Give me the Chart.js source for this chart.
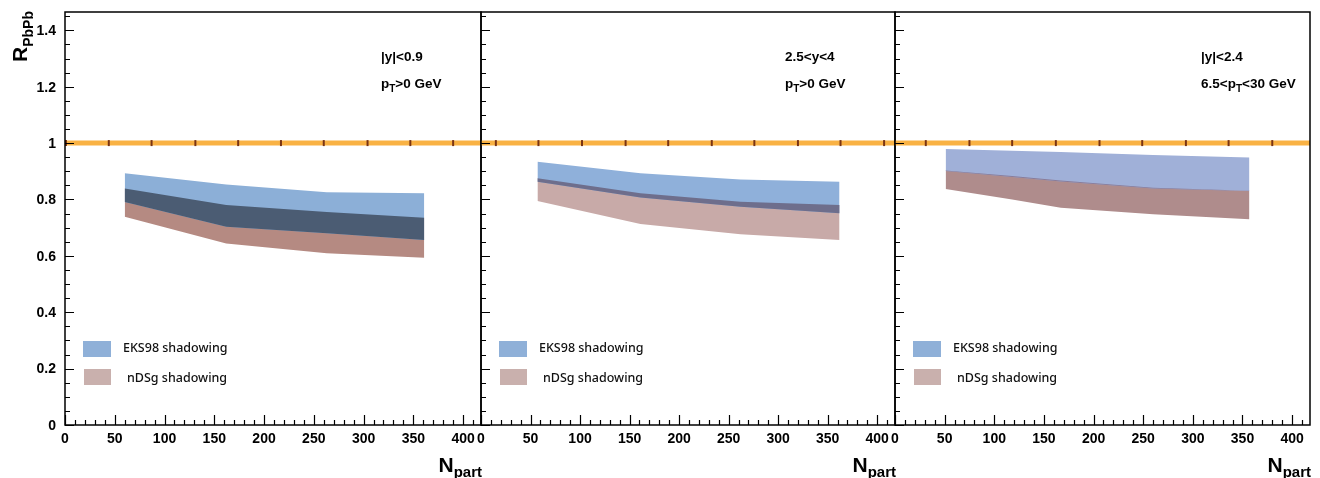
<!DOCTYPE html>
<html>
<head>
<meta charset="utf-8">
<script src="https://cdn.jsdelivr.net/npm/chart.js@4/dist/chart.umd.min.js"></script>
<style>
  body { margin: 0; background: #fff; width: 1320px; height: 478px; position: relative; overflow: hidden; }
  canvas { position: absolute; top: 0; }
</style>
</head>
<body>
<canvas id="panel1" width="491" height="478" style="left:0px"></canvas>
<canvas id="panel2" width="489" height="478" style="left:416px"></canvas>
<canvas id="panel3" width="490" height="478" style="left:830px"></canvas>
<script>
// tick labels
const yTickValues = [0, 0.2, 0.4, 0.6, 0.8, 1, 1.2, 1.4];
const xTickValues = [0, 50, 100, 150, 200, 250, 300, 350, 400];

// |y|<0.9, pT>0
const nPart1 = [60, 162, 263, 361];
const eksHi1 = [0.893, 0.853, 0.826, 0.822];
const eksLo1 = [0.791, 0.703, 0.680, 0.656];
const ndsHi1 = [0.839, 0.780, 0.756, 0.735];
const ndsLo1 = [0.739, 0.644, 0.609, 0.593];

// 2.5<y<4, pT>0
const nPart2 = [57, 161, 262, 362];
const eksHi2 = [0.934, 0.893, 0.871, 0.863];
const eksLo2 = [0.863, 0.807, 0.774, 0.751];
const ndsHi2 = [0.875, 0.822, 0.792, 0.780];
const ndsLo2 = [0.795, 0.713, 0.677, 0.656];

// |y|<2.4, 6.5<pT<30
const nPart3 = [51, 118, 167, 260, 357];
const eksHi3 = [0.979, 0.973, 0.968, 0.958, 0.949];
const eksLo3 = [0.901, 0.880, 0.864, 0.839, 0.830];
const ndsHi3 = [0.903, 0.883, 0.867, 0.842, 0.831];
const ndsLo3 = [0.837, 0.800, 0.771, 0.748, 0.730];

// reference line R = 1 and its dark markers
const refLevel = 1;
const refMarks1 = [1, 44, 87, 131, 174, 217, 260, 304, 347, 390];
const refMarks2 = [15, 58, 102, 146, 189, 233, 276, 320, 363, 407];
const refMarks3 = [31, 75, 118, 162, 206, 249, 293, 336, 380];

const legendLabels = ['EKS98 shadowing', 'nDSg shadowing'];

const FONT = '"Liberation Sans", Arial, sans-serif';
const X_MAX = 418;
const Y_MAX = 1.465;

function pts(xs, ys) {
  return xs.map((x, i) => ({ x: x, y: ys[i] }));
}

function band(xs, hi, lo, color, order) {
  return [
    { data: pts(xs, hi), backgroundColor: color, borderColor: 'rgba(0,0,0,0)', borderWidth: 0,
      pointRadius: 0, fill: '+1', order: order, tension: 0 },
    { data: pts(xs, lo), backgroundColor: color, borderColor: 'rgba(0,0,0,0)', borderWidth: 0,
      pointRadius: 0, fill: false, order: order, tension: 0 }
  ];
}

// draw text made of [text, isSub] parts
function drawRich(ctx, parts, x, y, size, subSize) {
  let cx = x;
  parts.forEach(p => {
    ctx.font = 'bold ' + (p[1] ? subSize : size) + 'px ' + FONT;
    ctx.fillText(p[0], cx, p[1] ? y + Math.round(size * 0.3) : y);
    cx += ctx.measureText(p[0]).width;
  });
}

function makePanel(id, cfg) {
  const overHi = cfg.eksHi.map((v, i) => Math.min(v, cfg.ndsHi[i]));
  const overLo = cfg.eksLo.map((v, i) => Math.min(Math.max(v, cfg.ndsLo[i]), overHi[i]));

  const decor = {
    id: 'decor',
    afterDraw(chart) {
      const ctx = chart.ctx;
      const a = chart.chartArea;
      const xs = chart.scales.x, ys = chart.scales.y;
      ctx.save();
      ctx.strokeStyle = '#000';
      ctx.fillStyle = '#000';
      ctx.lineWidth = 1.5;
      ctx.strokeRect(a.left, a.top, a.right - a.left, a.bottom - a.top);

      // inside ticks
      ctx.lineWidth = 1.2;
      ctx.beginPath();
      for (let v = 0; v <= Y_MAX + 1e-9; v += 0.05) {
        const py = Math.round(ys.getPixelForValue(v)) + 0.5;
        const major = Math.abs(v / 0.2 - Math.round(v / 0.2)) < 1e-6;
        ctx.moveTo(a.left, py);
        ctx.lineTo(a.left + (major ? 9 : 5), py);
      }
      for (let v = 0; v <= X_MAX; v += 10) {
        const px = Math.round(xs.getPixelForValue(v)) + 0.5;
        const major = v % 50 === 0;
        ctx.moveTo(px, a.bottom);
        ctx.lineTo(px, a.bottom - (major ? 10 : 5));
      }
      ctx.stroke();

      // y tick labels (first panel only)
      if (cfg.yTitle) {
        ctx.font = 'bold 14px ' + FONT;
        ctx.textAlign = 'right';
        ctx.textBaseline = 'middle';
        yTickValues.forEach(v => {
          ctx.fillText(String(v), a.left - 9, ys.getPixelForValue(v) + 1);
        });
      }

      // kinematic labels
      ctx.textAlign = 'left';
      ctx.textBaseline = 'alphabetic';
      drawRich(ctx, cfg.line1, a.left + cfg.textDx, 61, 13.5, 10);
      drawRich(ctx, cfg.line2, a.left + cfg.textDx, 88, 13.5, 10);

      // legend
      ctx.fillStyle = '#8fb0d8';
      ctx.fillRect(a.left + 18, 341, 28, 16);
      ctx.fillStyle = '#c9b0ad';
      ctx.fillRect(a.left + 19, 369, 27, 16);
      ctx.fillStyle = '#111';
      ctx.font = '500 12.5px "Noto Sans", "Open Sans", sans-serif';
      ctx.fillText(legendLabels[0], a.left + 58, 352);
      ctx.fillText(legendLabels[1], a.left + 62, 382);

      // x title N_part
      ctx.fillStyle = '#000';
      ctx.font = 'bold 21px ' + FONT;
      const wN = ctx.measureText('N').width;
      ctx.font = 'bold 15px ' + FONT;
      const wP = ctx.measureText('part').width;
      const x0 = a.right + 1 - wN - wP;
      ctx.font = 'bold 21px ' + FONT;
      ctx.fillText('N', x0, 472);
      ctx.font = 'bold 15px ' + FONT;
      ctx.fillText('part', x0 + wN, 477);

      // y title R_PbPb
      if (cfg.yTitle) {
        ctx.translate(27, 62);
        ctx.rotate(-Math.PI / 2);
        ctx.font = 'bold 21px ' + FONT;
        ctx.fillText('R', 0, 0);
        const wR = ctx.measureText('R').width;
        ctx.font = 'bold 14px ' + FONT;
        ctx.fillText('PbPb', wR, 6);
      }
      ctx.restore();
    }
  };

  const datasets = [
    { data: [{ x: 0, y: refLevel }, { x: X_MAX, y: refLevel }], borderColor: '#f9b244', borderWidth: 5,
      pointRadius: 0, fill: false, order: -2 },
    { data: cfg.marks.map(m => ({ x: m, y: refLevel })), showLine: false, pointStyle: 'line',
      rotation: 90, pointRadius: 3, pointBorderWidth: 2, pointBorderColor: '#7a3414', order: -3 },
    ...band(cfg.n, overHi, overLo, cfg.overColor, 0),
    ...band(cfg.n, cfg.eksHi, cfg.eksLo, cfg.eksColor, 1),
    ...band(cfg.n, cfg.ndsHi, cfg.ndsLo, cfg.ndsColor, 2)
  ];

  return new Chart(document.getElementById(id), {
    type: 'line',
    data: { datasets: datasets },
    plugins: [decor],
    options: {
      responsive: false,
      animation: false,
      events: [],
      layout: { autoPadding: false, padding: { top: 12, right: 10, left: 0, bottom: 0 } },
      plugins: { legend: { display: false }, tooltip: { enabled: false } },
      scales: {
        x: {
          type: 'linear', min: 0, max: X_MAX,
          afterBuildTicks: s => { s.ticks = xTickValues.map(v => ({ value: v })); },
          afterFit: s => { s.height = 53; },
          grid: { display: false, drawTicks: false },
          border: { display: false },
          ticks: { color: '#000', padding: 6, maxRotation: 0, autoSkip: false,
                   font: { family: FONT, size: 14, weight: 'bold' } }
        },
        y: {
          type: 'linear', min: 0, max: Y_MAX,
          afterBuildTicks: s => { s.ticks = yTickValues.map(v => ({ value: v })); },
          afterFit: s => { s.width = 65; },
          grid: { display: false, drawTicks: false },
          border: { display: false },
          ticks: { display: false }
        }
      }
    }
  });
}

makePanel('panel1', {
  n: nPart1, eksHi: eksHi1, eksLo: eksLo1, ndsHi: ndsHi1, ndsLo: ndsLo1, marks: refMarks1,
  eksColor: '#8cafd7', ndsColor: '#b58a82', overColor: '#4b5c73',
  line1: [['|y|<0.9', false]], line2: [['p', false], ['T', true], ['>0 GeV', false]],
  textDx: 316, yTitle: true
});
makePanel('panel2', {
  n: nPart2, eksHi: eksHi2, eksLo: eksLo2, ndsHi: ndsHi2, ndsLo: ndsLo2, marks: refMarks2,
  eksColor: '#8fb0da', ndsColor: '#c8aaa8', overColor: '#6e6e8c',
  line1: [['2.5<y<4', false]], line2: [['p', false], ['T', true], ['>0 GeV', false]],
  textDx: 304, yTitle: false
});
makePanel('panel3', {
  n: nPart3, eksHi: eksHi3, eksLo: eksLo3, ndsHi: ndsHi3, ndsLo: ndsLo3, marks: refMarks3,
  eksColor: '#a0b0d8', ndsColor: '#af8c8c', overColor: '#8a7c98',
  line1: [['|y|<2.4', false]], line2: [['6.5<p', false], ['T', true], ['<30 GeV', false]],
  textDx: 306, yTitle: false
});
</script>
</body>
</html>
